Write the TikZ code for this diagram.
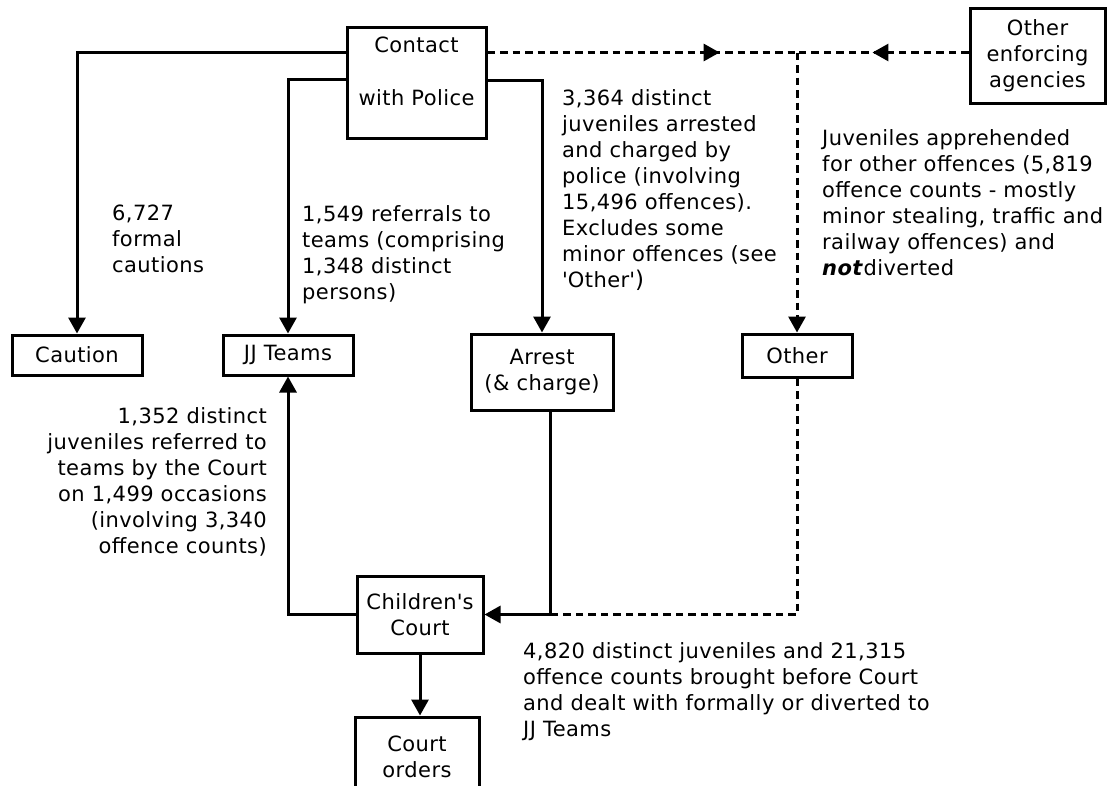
\documentclass[tikz,border=0pt]{standalone}
\usepackage{fontspec}
\usetikzlibrary{arrows.meta,calc,decorations.markings}
\newfontfamily\dvfont[LetterSpace=2]{DejaVu Sans}
\newcommand\lblfont{\dvfont\fontsize{21}{26}\selectfont}
\begin{document}
\begin{tikzpicture}[x=1pt,y=-1pt,
  box/.style={draw,line width=3pt,inner sep=0pt,align=center,font=\lblfont},
  lbl/.style={inner sep=0pt,align=center,font=\lblfont},
  txt/.style={inner sep=0pt,align=left,anchor=north west,font=\lblfont},
  rtxt/.style={inner sep=0pt,align=right,anchor=north east,font=\lblfont},
  solidline/.style={line width=3pt},
  tip/.style={-{Triangle[length=16pt,width=17pt]}},
  dsh/.style={line width=3pt,dash pattern=on 7.5pt off 5pt},
  midarrow/.style={postaction={decorate},decoration={markings,mark=at position #1 with {\arrow{Triangle[length=16pt,width=17pt]}}}}
]
\clip (0,0) rectangle (1107,785);
\fill[white] (0,0) rectangle (1107,785);

% boxes
\node[box,minimum width=139pt,minimum height=111pt] (contact) at (416.5,82.5) {};
\node[lbl] (contacttxt) at (416.5,71.5) {Contact\\[27pt]with Police};
\node[box,minimum width=135pt,minimum height=95pt] (oea) at (1037.5,55.5) {Other\\enforcing\\agencies};
\node[box,minimum width=130pt,minimum height=40pt] (caution) at (77,355) {Caution};
\node[box,minimum width=130pt,minimum height=40pt] (jj) at (288,355) {JJ Teams};
\node[box,minimum width=142pt,minimum height=76pt] (arrest) at (542,372) {Arrest\\(\& charge)};
\node[box,minimum width=110pt,minimum height=43pt] (other) at (797,355.5) {Other};
\node[box,minimum width=126pt,minimum height=77pt] (court) at (420,614.5) {Children\textquotesingle s\\Court};
\node[box,minimum width=124pt,minimum height=80pt] (orders) at (417,757) {Court\\orders};

% helper coordinates
\path ($(contact.north west)+(0,27)$) coordinate (cw1);
\path ($(contact.north west)+(0,54)$) coordinate (cw2);
\path ($(contact.north east)+(0,55)$) coordinate (ce2);
\path ($(contact.north east)+(0,27)$) coordinate (ce1);
\coordinate (junc) at (other.north |- ce1);
\path ($(arrest.south)+(8,0)$) coordinate (arrbot);
\coordinate (merge) at (arrbot |- court.east);

% solid connectors
\draw[solidline,tip] (cw1) -| (caution.north);
\draw[solidline,tip] (cw2) -| (jj.north);
\draw[solidline,tip] (ce2) -| (arrest.north);
\draw[solidline,tip] (arrbot) |- (court.east);
\draw[solidline,tip] (court.west) -| (jj.south);
\draw[solidline,tip] (court.south) -- (court.south |- orders.north);

% dashed connectors
\draw[dsh,midarrow=0.75] (ce1) -- (junc);
\draw[dsh,midarrow=0.56] (oea.west |- junc) -- (junc);
\draw[dsh,tip] (junc) -- (other.north);
\draw[dsh] (other.south) |- (merge);

% texts
\node[txt] (t1) at (112,205) {6,727\\formal\\cautions};
\node[txt] (t2) at (302,205) {1,549 referrals to\\teams (comprising\\1,348 distinct\\persons)};
\node[txt] (t3) at (562,89) {3,364 distinct\\juveniles arrested\\and charged by\\police (involving\\15,496 offences).\\Excludes some\\minor offences (see\\\textquotesingle Other\textquotesingle{\fontsize{23}{26}\selectfont)}};
\node[txt] (t4) at (822,129) {Juveniles apprehended\\for other offences (5,819\\offence counts - mostly\\minor stealing, traffic and\\railway offences) and\\\textbf{\textit{not}}diverted};
\node[rtxt] (t5) at (267,407) {1,352 distinct\\juveniles referred to\\teams by the Court\\on 1,499 occasions\\(involving 3,340\\offence counts)};
\node[txt] (t6) at (523,642) {4,820 distinct juveniles and 21,315\\offence counts brought before Court\\and dealt with formally or diverted to\\JJ Teams};
\end{tikzpicture}
\end{document}
